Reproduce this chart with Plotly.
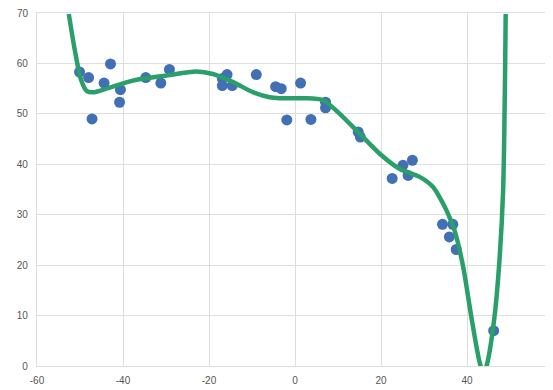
import numpy as np
import plotly.graph_objects as go

# observed points
x_pts = [-50.1, -48.0, -47.2, -44.4, -42.9, -40.6, -40.8, -34.7, -31.2, -29.2,
         -16.9, -15.8, -16.9, -14.6, -9.0, -4.5, -3.2, -1.9, 1.3, 3.7,
         7.1, 7.1, 14.7, 15.2, 22.6, 25.1, 26.3, 27.3, 34.3, 36.7,
         35.9, 37.5, 46.2]
y_pts = [58.3, 57.2, 49.0, 56.1, 59.9, 54.8, 52.3, 57.2, 56.1, 58.8,
         57.0, 57.8, 55.6, 55.6, 57.8, 55.4, 55.0, 48.8, 56.1, 48.9,
         52.3, 51.2, 46.4, 45.4, 37.2, 39.8, 37.8, 40.8, 28.1, 28.1,
         25.6, 23.1, 7.0]

# fitted curve
fit_x = [-52.6, -51.2, -49.7, -48.4, -46.6, -43.1, -37.7, -29.9, -22.9, -19.1,
         -14.4, -9.8, -5.9, -3.6, 1.9, 6.5, 10.4, 15.0, 19.7, 24.3,
         29.0, 32.1, 34.0, 35.2, 37.1, 39.1, 41.0, 43.0, 43.9, 44.7,
         46.4, 47.6, 48.4, 49.0]
fit_y = [69.8, 62.6, 56.6, 54.5, 54.3, 55.2, 56.6, 57.6, 58.4, 57.9,
         56.3, 54.3, 53.3, 53.1, 53.1, 52.7, 50.0, 46.1, 42.1, 39.1,
         37.5, 35.5, 32.9, 30.9, 26.9, 19.7, 9.8, 0.5, -1.5, 0.5,
         9.8, 21.6, 34.9, 69.8]

x_ticks = [-60, -40, -20, 0, 20, 40, 60]
x_labels = ["-60", "-40", "-20", "0", "20", "40", "60"]
y_ticks = [0, 10, 20, 30, 40, 50, 60, 70]
y_labels = [str(v) for v in y_ticks]

fig = go.Figure()
fig.add_trace(go.Scatter(x=x_pts, y=y_pts, mode="markers",
                         marker=dict(size=11, color="#4170b4", line=dict(width=0)),
                         showlegend=False))
fig.add_trace(go.Scatter(x=fit_x, y=fit_y, mode="lines",
                         line=dict(color="#2a9f69", width=4.5, shape="spline", smoothing=0.8),
                         showlegend=False))

grid = "#dedede"
txt = "#555555"
# edge tick labels that plotly would drop: draw them as annotations
fig.add_annotation(x=x_ticks[-1], y=0, xref="x", yref="paper", text=x_labels[-1],
                   showarrow=False, xanchor="center", yanchor="top", yshift=-5,
                   font=dict(size=10, color=txt))
fig.add_annotation(x=0, y=y_ticks[-1], xref="paper", yref="y", text=y_labels[-1],
                   showarrow=False, xanchor="right", yanchor="middle", xshift=-6,
                   font=dict(size=10, color=txt))

fig.update_layout(
    width=545, height=382,
    margin=dict(l=29, r=0, t=5, b=24),
    paper_bgcolor="white", plot_bgcolor="white",
    font=dict(family="Liberation Sans, Arial, sans-serif", size=10, color=txt),
    xaxis=dict(range=[-60, 60], tickvals=x_ticks, ticktext=x_labels[:-1] + [""],
               showgrid=True, gridcolor=grid, gridwidth=1.3, zeroline=False,
               showline=True, linecolor=grid, linewidth=1.3, mirror=True,
               ticks="", ticklabelstandoff=5),
    yaxis=dict(range=[0, 70], tickvals=y_ticks, ticktext=y_labels[:-1] + [""],
               showgrid=True, gridcolor=grid, gridwidth=1.3, zeroline=False,
               showline=True, linecolor=grid, linewidth=1.3, mirror=True,
               ticks="", ticklabelstandoff=6),
)
fig.write_html("out.html")
